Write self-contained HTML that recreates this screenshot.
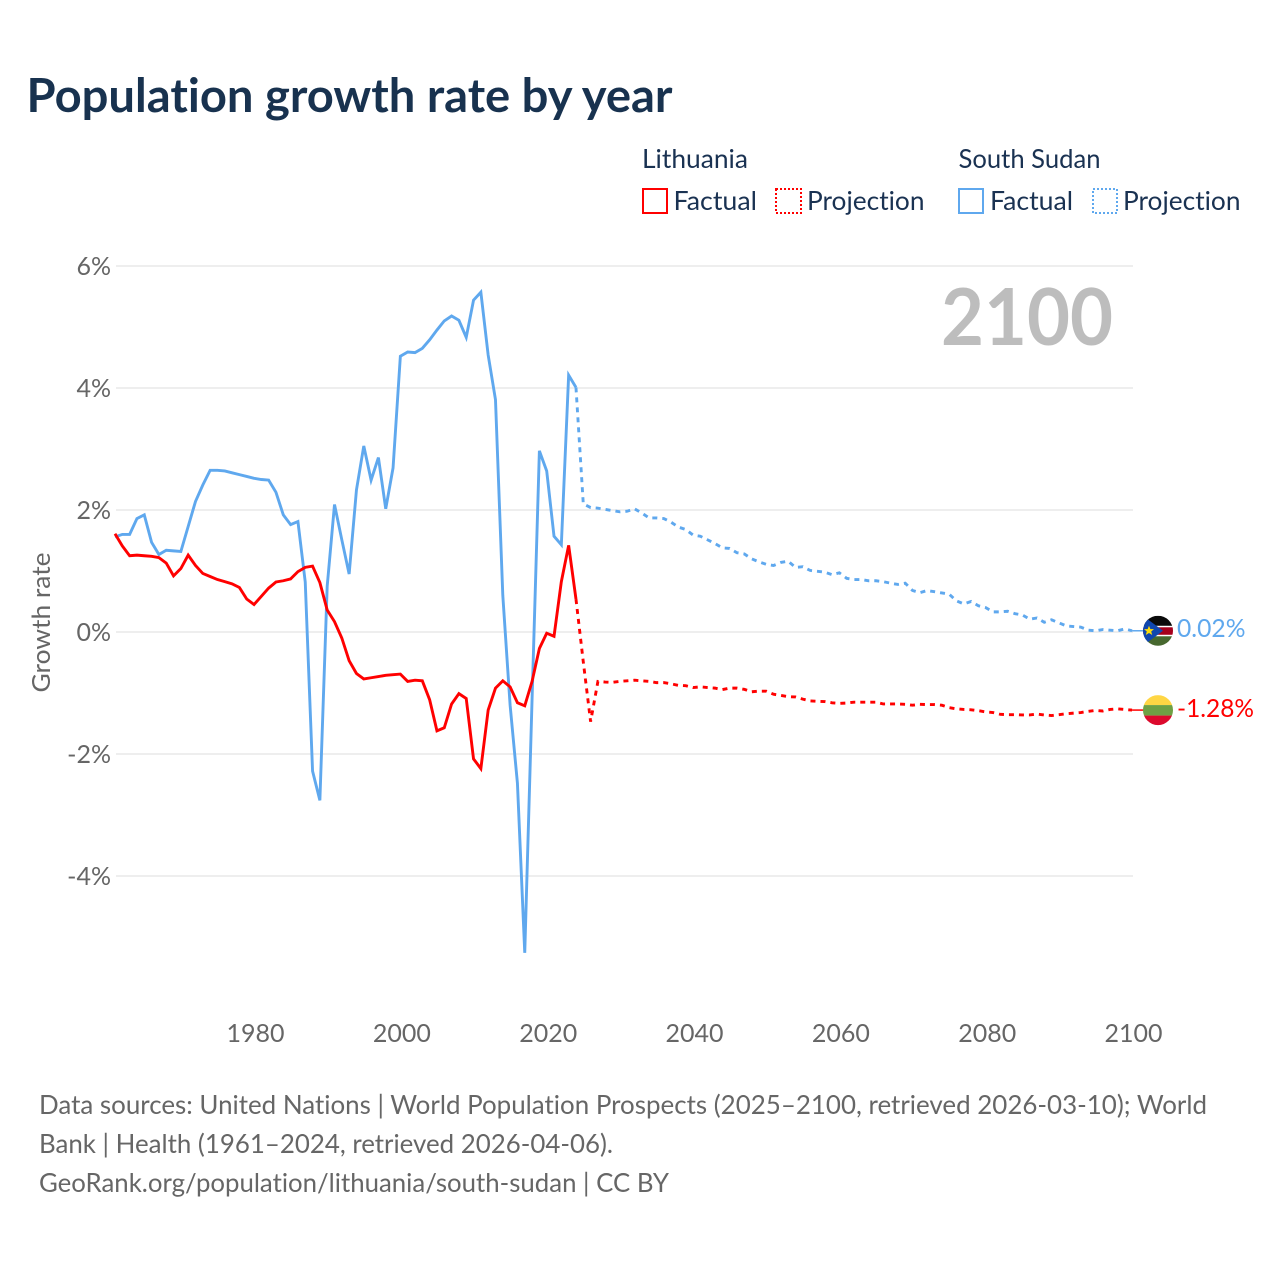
<!DOCTYPE html>
<html lang="en">
<head>
<meta charset="utf-8">
<title>Population growth rate by year</title>
<style>
html,body{margin:0;padding:0;background:#fff;}
svg{display:block;}
text{font-family:Lato,Carlito,"Liberation Sans",sans-serif;font-variant-ligatures:none;font-feature-settings:"liga" 0,"clig" 0;}
</style>
</head>
<body>
<svg id="chart" xmlns="http://www.w3.org/2000/svg" width="1280" height="1280" viewBox="0 0 1280 1280">
  <defs>
    <clipPath id="flag-clip"><circle cx="0" cy="0" r="15"/></clipPath>
  </defs>
  <rect x="0" y="0" width="1280" height="1280" fill="#ffffff"/>
  <text x="26.5" y="112" font-size="47" font-weight="700" fill="#18324f" textLength="646" lengthAdjust="spacingAndGlyphs">Population growth rate by year</text>

  <g font-size="26" fill="#1a3252">
    <text x="642" y="168" textLength="106" lengthAdjust="spacingAndGlyphs">Lithuania</text>
    <text x="958.5" y="168" textLength="142" lengthAdjust="spacingAndGlyphs">South Sudan</text>
    <rect x="643" y="189" width="24" height="24" fill="none" stroke="#ff0000" stroke-width="2"/>
    <text x="673.5" y="210" textLength="83.5" lengthAdjust="spacingAndGlyphs">Factual</text>
    <rect x="776" y="189" width="25" height="24" fill="none" stroke="#ff0000" stroke-width="2" stroke-dasharray="2 2"/>
    <text x="807" y="210" textLength="117.5" lengthAdjust="spacingAndGlyphs">Projection</text>
    <rect x="959" y="189" width="24" height="24" fill="none" stroke="#5fa8ee" stroke-width="2"/>
    <text x="990" y="210" textLength="83" lengthAdjust="spacingAndGlyphs">Factual</text>
    <rect x="1093" y="189" width="24" height="24" fill="none" stroke="#5fa8ee" stroke-width="2" stroke-dasharray="2 2"/>
    <text x="1123" y="210" textLength="117.5" lengthAdjust="spacingAndGlyphs">Projection</text>
  </g>

  <g id="grid"></g>
  <g id="y-ticks"></g>
  <g id="x-ticks"></g>
  <text transform="translate(50,622.5) rotate(-90)" text-anchor="middle" font-size="25" fill="#666666" textLength="140" lengthAdjust="spacingAndGlyphs">Growth rate</text>
  <text x="941" y="345" font-size="79" font-weight="700" fill="#bdbdbd" textLength="172" lengthAdjust="spacingAndGlyphs">2100</text>

  <g id="series"></g>

  <g id="flag-ss">
    <g clip-path="url(#flag-clip)">
      <rect x="-15" y="-15" width="30" height="30" fill="#ffffff"/>
      <rect x="-15" y="-15" width="30" height="10" fill="#0a0a0a"/>
      <rect x="-15" y="-3.5" width="30" height="7.5" fill="#a6001c"/>
      <rect x="-15" y="5.5" width="30" height="10" fill="#47682f"/>
      <polygon points="-15,-15 5,0 -15,15" fill="#0f47af"/>
      <polygon points="-9,-5 -7.6,-1.6 -4,-1.6 -6.8,0.7 -5.8,4.2 -9,2.2 -12.2,4.2 -11.2,0.7 -14,-1.6 -10.4,-1.6" fill="#fcdd09"/>
    </g>
  </g>
  <g id="flag-lt">
    <g clip-path="url(#flag-clip)">
      <rect x="-15" y="-15" width="30" height="10" fill="#ffd644"/>
      <rect x="-15" y="-5" width="30" height="10.5" fill="#6ea044"/>
      <rect x="-15" y="5.5" width="30" height="10" fill="#dc0a2d"/>
    </g>
  </g>
  <text id="value-ss" x="1177" font-size="25" fill="#5fa8ee" textLength="68.5" lengthAdjust="spacingAndGlyphs"></text>
  <text id="value-lt" x="1177" font-size="25" fill="#ff0000" textLength="77" lengthAdjust="spacingAndGlyphs"></text>

  <g font-size="26" fill="#666666">
    <text x="39" y="1114" textLength="1168" lengthAdjust="spacingAndGlyphs">Data sources: United Nations | World Population Prospects (2025–2100, retrieved 2026-03-10); World</text>
    <text x="39" y="1153" textLength="574" lengthAdjust="spacingAndGlyphs">Bank | Health (1961–2024, retrieved 2026-04-06).</text>
    <text x="39" y="1192" textLength="630" lengthAdjust="spacingAndGlyphs">GeoRank.org/population/lithuania/south-sudan | CC BY</text>
  </g>
</svg>
<script>
var firstFactualYear = 1961;
var firstProjectionYear = 2024;
var yTickValues = [6, 4, 2, 0, -2, -4];
var yTickLabels = ["6%", "4%", "2%", "0%", "-2%", "-4%"];
var xTickValues = [1980, 2000, 2020, 2040, 2060, 2080, 2100];
var xTickLabels = ["1980", "2000", "2020", "2040", "2060", "2080", "2100"];

var lithuaniaFactual = [1.61,1.41,1.25,1.26,1.25,1.24,1.22,1.13,0.92,1.04,1.26,1.09,0.96,0.91,0.86,0.825,0.79,0.73,0.54,0.45,0.585,0.72,0.82,0.84,0.87,0.99,1.06,1.08,0.81,0.36,0.17,-0.10,-0.47,-0.68,-0.77,-0.75,-0.73,-0.71,-0.70,-0.69,-0.81,-0.79,-0.80,-1.11,-1.62,-1.57,-1.18,-1.01,-1.09,-2.08,-2.24,-1.28,-0.92,-0.80,-0.90,-1.16,-1.21,-0.81,-0.27,-0.02,-0.07,0.825,1.42,0.54];
var lithuaniaProjection = [0.54,-0.49,-1.47,-0.81,-0.82,-0.825,-0.81,-0.80,-0.79,-0.80,-0.81,-0.83,-0.83,-0.85,-0.875,-0.88,-0.91,-0.90,-0.91,-0.92,-0.945,-0.92,-0.92,-0.94,-0.98,-0.97,-0.97,-1.02,-1.04,-1.06,-1.065,-1.10,-1.13,-1.136,-1.14,-1.16,-1.17,-1.165,-1.15,-1.15,-1.15,-1.15,-1.18,-1.18,-1.18,-1.185,-1.20,-1.185,-1.19,-1.19,-1.20,-1.24,-1.26,-1.27,-1.275,-1.29,-1.31,-1.32,-1.35,-1.355,-1.355,-1.36,-1.36,-1.345,-1.36,-1.37,-1.355,-1.34,-1.33,-1.32,-1.30,-1.285,-1.295,-1.27,-1.26,-1.27,-1.28];
var southSudanFactual = [1.56,1.60,1.60,1.86,1.92,1.47,1.27,1.34,1.33,1.32,1.73,2.14,2.41,2.65,2.65,2.64,2.61,2.58,2.55,2.52,2.50,2.49,2.29,1.92,1.76,1.81,0.82,-2.28,-2.76,0.75,2.09,1.51,0.95,2.33,3.05,2.49,2.86,2.02,2.69,4.52,4.59,4.58,4.65,4.79,4.95,5.10,5.18,5.11,4.83,5.44,5.57,4.54,3.81,0.60,-1.20,-2.48,-5.26,-1.10,2.97,2.64,1.57,1.43,4.21,4.01];
var southSudanProjection = [4.01,2.10,2.04,2.03,2.01,1.99,1.97,1.98,2.02,1.95,1.87,1.87,1.86,1.80,1.72,1.68,1.59,1.57,1.51,1.45,1.38,1.37,1.30,1.28,1.20,1.15,1.11,1.09,1.14,1.16,1.06,1.07,1.01,0.995,0.98,0.94,0.97,0.88,0.86,0.86,0.84,0.84,0.825,0.80,0.78,0.80,0.68,0.645,0.68,0.66,0.64,0.62,0.51,0.46,0.50,0.43,0.40,0.33,0.33,0.34,0.30,0.28,0.21,0.23,0.16,0.20,0.15,0.10,0.09,0.08,0.03,0.02,0.04,0.03,0.02,0.05,0.02];

var endValueLabels = { southSudan: "0.02%", lithuania: "-1.28%" };

var SVG_NS = "http://www.w3.org/2000/svg";
function xScale(year) { return 115 + (year - 1961) * 7.317; }
function yScale(value) { return 632 - value * 61; }

function make(tag, attrs, parent) {
  var el = document.createElementNS(SVG_NS, tag);
  for (var k in attrs) { el.setAttribute(k, attrs[k]); }
  parent.appendChild(el);
  return el;
}

var gridGroup = document.getElementById("grid");
var yGroup = document.getElementById("y-ticks");
var xGroup = document.getElementById("x-ticks");
var seriesGroup = document.getElementById("series");

yTickValues.forEach(function (v, i) {
  var line = make("line", { x1: 116, x2: 1133, y1: yScale(v), y2: yScale(v), stroke: "#e9e9e9", "stroke-width": 1.5 }, gridGroup);
  
  
  var label = make("text", { x: 111, y: yScale(v) + 9, "text-anchor": "end", "font-size": 25, fill: "#666666" }, yGroup);
  
  
  label.textContent = yTickLabels[i];
});

xTickValues.forEach(function (v, i) {
  var label = make("text", { x: xScale(v) + 1.5, y: 1042, "text-anchor": "middle", "font-size": 25, fill: "#666666" }, xGroup);
  
  
  label.textContent = xTickLabels[i];
});

function pathFor(values, startYear) {
  return values.map(function (v, i) {
    return (i === 0 ? "M" : "L") + xScale(startYear + i).toFixed(2) + " " + yScale(v).toFixed(2);
  }).join(" ");
}

var blue = "#5fa8ee";
var red = "#ff0000";

var ssFactualLine = make("path", { d: pathFor(southSudanFactual, firstFactualYear), fill: "none", stroke: blue, "stroke-width": 2.9, "stroke-linejoin": "miter" }, seriesGroup);



var ssProjectionLine = make("path", { d: pathFor(southSudanProjection, firstProjectionYear), fill: "none", stroke: blue, "stroke-width": 2.9, "stroke-dasharray": "5 5" }, seriesGroup);



var ltFactualLine = make("path", { d: pathFor(lithuaniaFactual, firstFactualYear), fill: "none", stroke: red, "stroke-width": 2.9, "stroke-linejoin": "miter" }, seriesGroup);



var ltProjectionLine = make("path", { d: pathFor(lithuaniaProjection, firstProjectionYear), fill: "none", stroke: red, "stroke-width": 2.9, "stroke-dasharray": "5 5" }, seriesGroup);



var ssEnd = yScale(southSudanProjection[southSudanProjection.length - 1]);
var ltEnd = yScale(lithuaniaProjection[lithuaniaProjection.length - 1]);

var ssConnector = make("line", { x1: xScale(2100), x2: 1146, y1: ssEnd, y2: ssEnd, stroke: blue, "stroke-width": 1.5 }, seriesGroup);



var ltConnector = make("line", { x1: xScale(2100), x2: 1146, y1: ltEnd, y2: ltEnd, stroke: red, "stroke-width": 1.5 }, seriesGroup);



document.getElementById("flag-ss").setAttribute("transform", "translate(1158," + ssEnd + ")");
document.getElementById("flag-lt").setAttribute("transform", "translate(1158," + ltEnd + ")");

var ssValue = document.getElementById("value-ss");
ssValue.setAttribute("y", ssEnd + 6);
ssValue.textContent = endValueLabels.southSudan;

var ltValue = document.getElementById("value-lt");
ltValue.setAttribute("y", ltEnd + 7);
ltValue.textContent = endValueLabels.lithuania;
</script>
</body>
</html>
